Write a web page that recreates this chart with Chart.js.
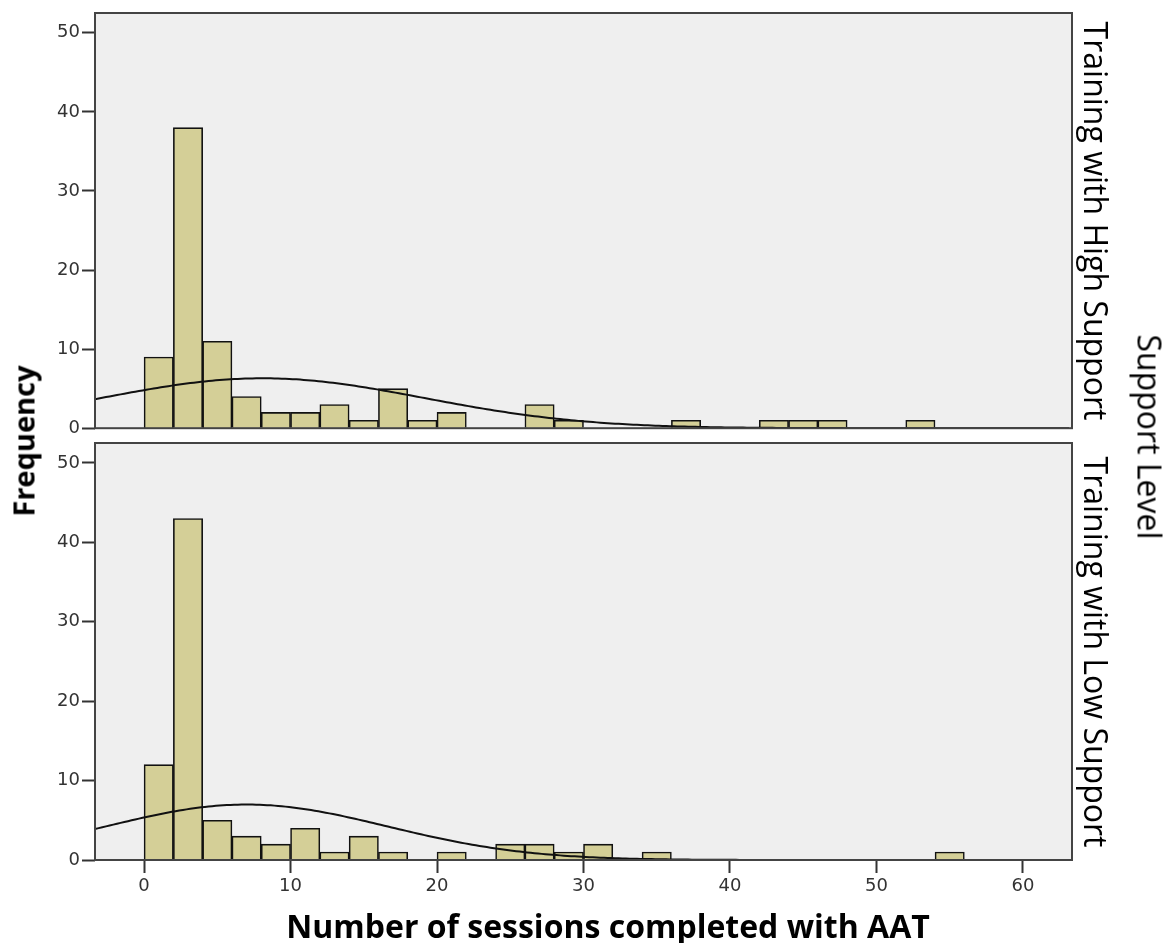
<!DOCTYPE html>
<html>
<head>
<meta charset="utf-8">
<script src="https://cdn.jsdelivr.net/npm/chart.js@4.4.1/dist/chart.umd.min.js"></script>
<style>
  html, body { margin: 0; padding: 0; background: #fff; }
  #wrap { position: relative; width: 1165px; height: 943px; overflow: hidden; }
  canvas { position: absolute; left: 0; }
  #topChart { top: 0; }
  #bottomChart { top: 430px; }
  .lbl { position: absolute; white-space: nowrap; color: #000; transform-origin: center; }
</style>
</head>
<body>
<div id="wrap">
  <canvas id="topChart" width="1165" height="441"></canvas>
  <canvas id="bottomChart" width="1165" height="513"></canvas>

  <div class="lbl" style="left:23px; top:441px; font:bold 29px 'Open Sans'; transform:translate(-50%,-50%) rotate(-90deg);">Frequency</div>
  <div class="lbl" style="left:1096px; top:221px; font:32px 'Open Sans'; transform:translate(-50%,-50%) rotate(90deg);">Training with High Support</div>
  <div class="lbl" style="left:1096px; top:652px; font:32px 'Open Sans'; transform:translate(-50%,-50%) rotate(90deg);">Training with Low Support</div>
  <div class="lbl" style="left:1150px; top:437px; font:32px 'Open Sans'; transform:translate(-50%,-50%) rotate(90deg);">Support Level</div>
  <div class="lbl" style="left:608px; top:925px; font:bold 32px 'Open Sans'; transform:translate(-50%,-50%);">Number of sessions completed with AAT</div>
</div>

<script>
// bins are 2 sessions wide, starting at 0
const binWidth = 2;
const binStarts = [0, 2, 4, 6, 8, 10, 12, 14, 16, 18, 20, 22, 24, 26,
                   28, 30, 32, 34, 36, 38, 40, 42, 44, 46, 48, 50, 52, 54];

const highCounts = [9, 38, 11, 4, 2, 2, 3, 1, 5, 1, 2, 0, 0, 3,
                    1, 0, 0, 0, 1, 0, 0, 1, 1, 1, 0, 0, 1, 0];
const lowCounts  = [12, 43, 5, 3, 2, 4, 1, 3, 1, 0, 1, 0, 2, 2,
                    1, 2, 0, 1, 0, 0, 0, 0, 0, 0, 0, 0, 0, 1];

// fitted normal curve parameters
const highMean = 8.1, highSd = 11.0;
const lowMean = 7.0, lowSd = 9.6;

const xTickValues = [0, 10, 20, 30, 40, 50, 60];
const yTickValues = [0, 10, 20, 30, 40, 50];

const xMin = -3.35, xMax = 63.35;
const yMax = 52.5;

// draws the grey plot background and the dark frame round it
const panelFrame = {
    id: 'panelFrame',
    beforeDraw(chart) {
        const a = chart.chartArea;
        const ctx = chart.ctx;
        ctx.save();
        ctx.fillStyle = '#efefef';
        ctx.fillRect(a.left, a.top, a.right - a.left, a.bottom - a.top);
        ctx.restore();
    },
    afterDatasetsDraw(chart) {
        const a = chart.chartArea;
        const ctx = chart.ctx;
        ctx.save();
        ctx.strokeStyle = '#444';
        ctx.lineWidth = 2;
        ctx.strokeRect(a.left, a.top, a.right - a.left, a.bottom - a.top);
        ctx.restore();
    }
};

function curvePoints(counts, mean, sd) {
    const n = counts.reduce((s, v) => s + v, 0);
    const pts = [];
    for (let x = xMin; x <= xMax + 0.001; x += 0.25) {
        const z = (x - mean) / sd;
        pts.push({ x: x, y: n * binWidth * Math.exp(-0.5 * z * z) / (sd * Math.sqrt(2 * Math.PI)) });
    }
    return pts;
}

function makePanel(canvasId, counts, mean, sd, showX) {
    const bars = binStarts.map((b, i) => ({ x: b + binWidth / 2, y: counts[i] }));

    return new Chart(document.getElementById(canvasId), {
        type: 'bar',
        data: {
            datasets: [
                {
                    type: 'line',
                    data: curvePoints(counts, mean, sd),
                    borderColor: '#111',
                    borderWidth: 2,
                    pointRadius: 0,
                    tension: 0,
                    order: 0
                },
                {
                    type: 'bar',
                    data: bars,
                    backgroundColor: '#d4cf97',
                    borderColor: '#111',
                    borderWidth: 1.6,
                    barPercentage: 1,
                    categoryPercentage: 1,
                    order: 1
                }
            ]
        },
        options: {
            responsive: false,
            animation: false,
            layout: {
                padding: showX ? { top: 13, right: 93, bottom: 0, left: 0 }
                               : { top: 13, right: 93, bottom: 10, left: 0 }
            },
            plugins: { legend: { display: false }, tooltip: { enabled: false } },
            scales: {
                x: {
                    type: 'linear',
                    display: showX,
                    min: xMin,
                    max: xMax,
                    offset: false,
                    afterBuildTicks: (s) => { s.ticks = xTickValues.map(v => ({ value: v })); },
                    afterFit: (s) => { if (showX) s.height = 83; },
                    grid: { drawOnChartArea: false, offset: false, tickLength: 13, tickWidth: 2, tickColor: '#333' },
                    border: { display: false },
                    ticks: { color: '#333', font: { family: 'DejaVu Sans', size: 18 }, padding: 3 }
                },
                y: {
                    min: 0,
                    max: yMax,
                    afterBuildTicks: (s) => { s.ticks = yTickValues.map(v => ({ value: v })); },
                    afterFit: (s) => { s.width = 95; },
                    grid: { drawOnChartArea: false, tickLength: 13, tickWidth: 2, tickColor: '#333' },
                    border: { display: false },
                    ticks: { color: '#333', font: { family: 'DejaVu Sans', size: 18 }, padding: 2 }
                }
            }
        },
        plugins: [panelFrame]
    });
}

makePanel('topChart', highCounts, highMean, highSd, false);
makePanel('bottomChart', lowCounts, lowMean, lowSd, true);
</script>
</body>
</html>
